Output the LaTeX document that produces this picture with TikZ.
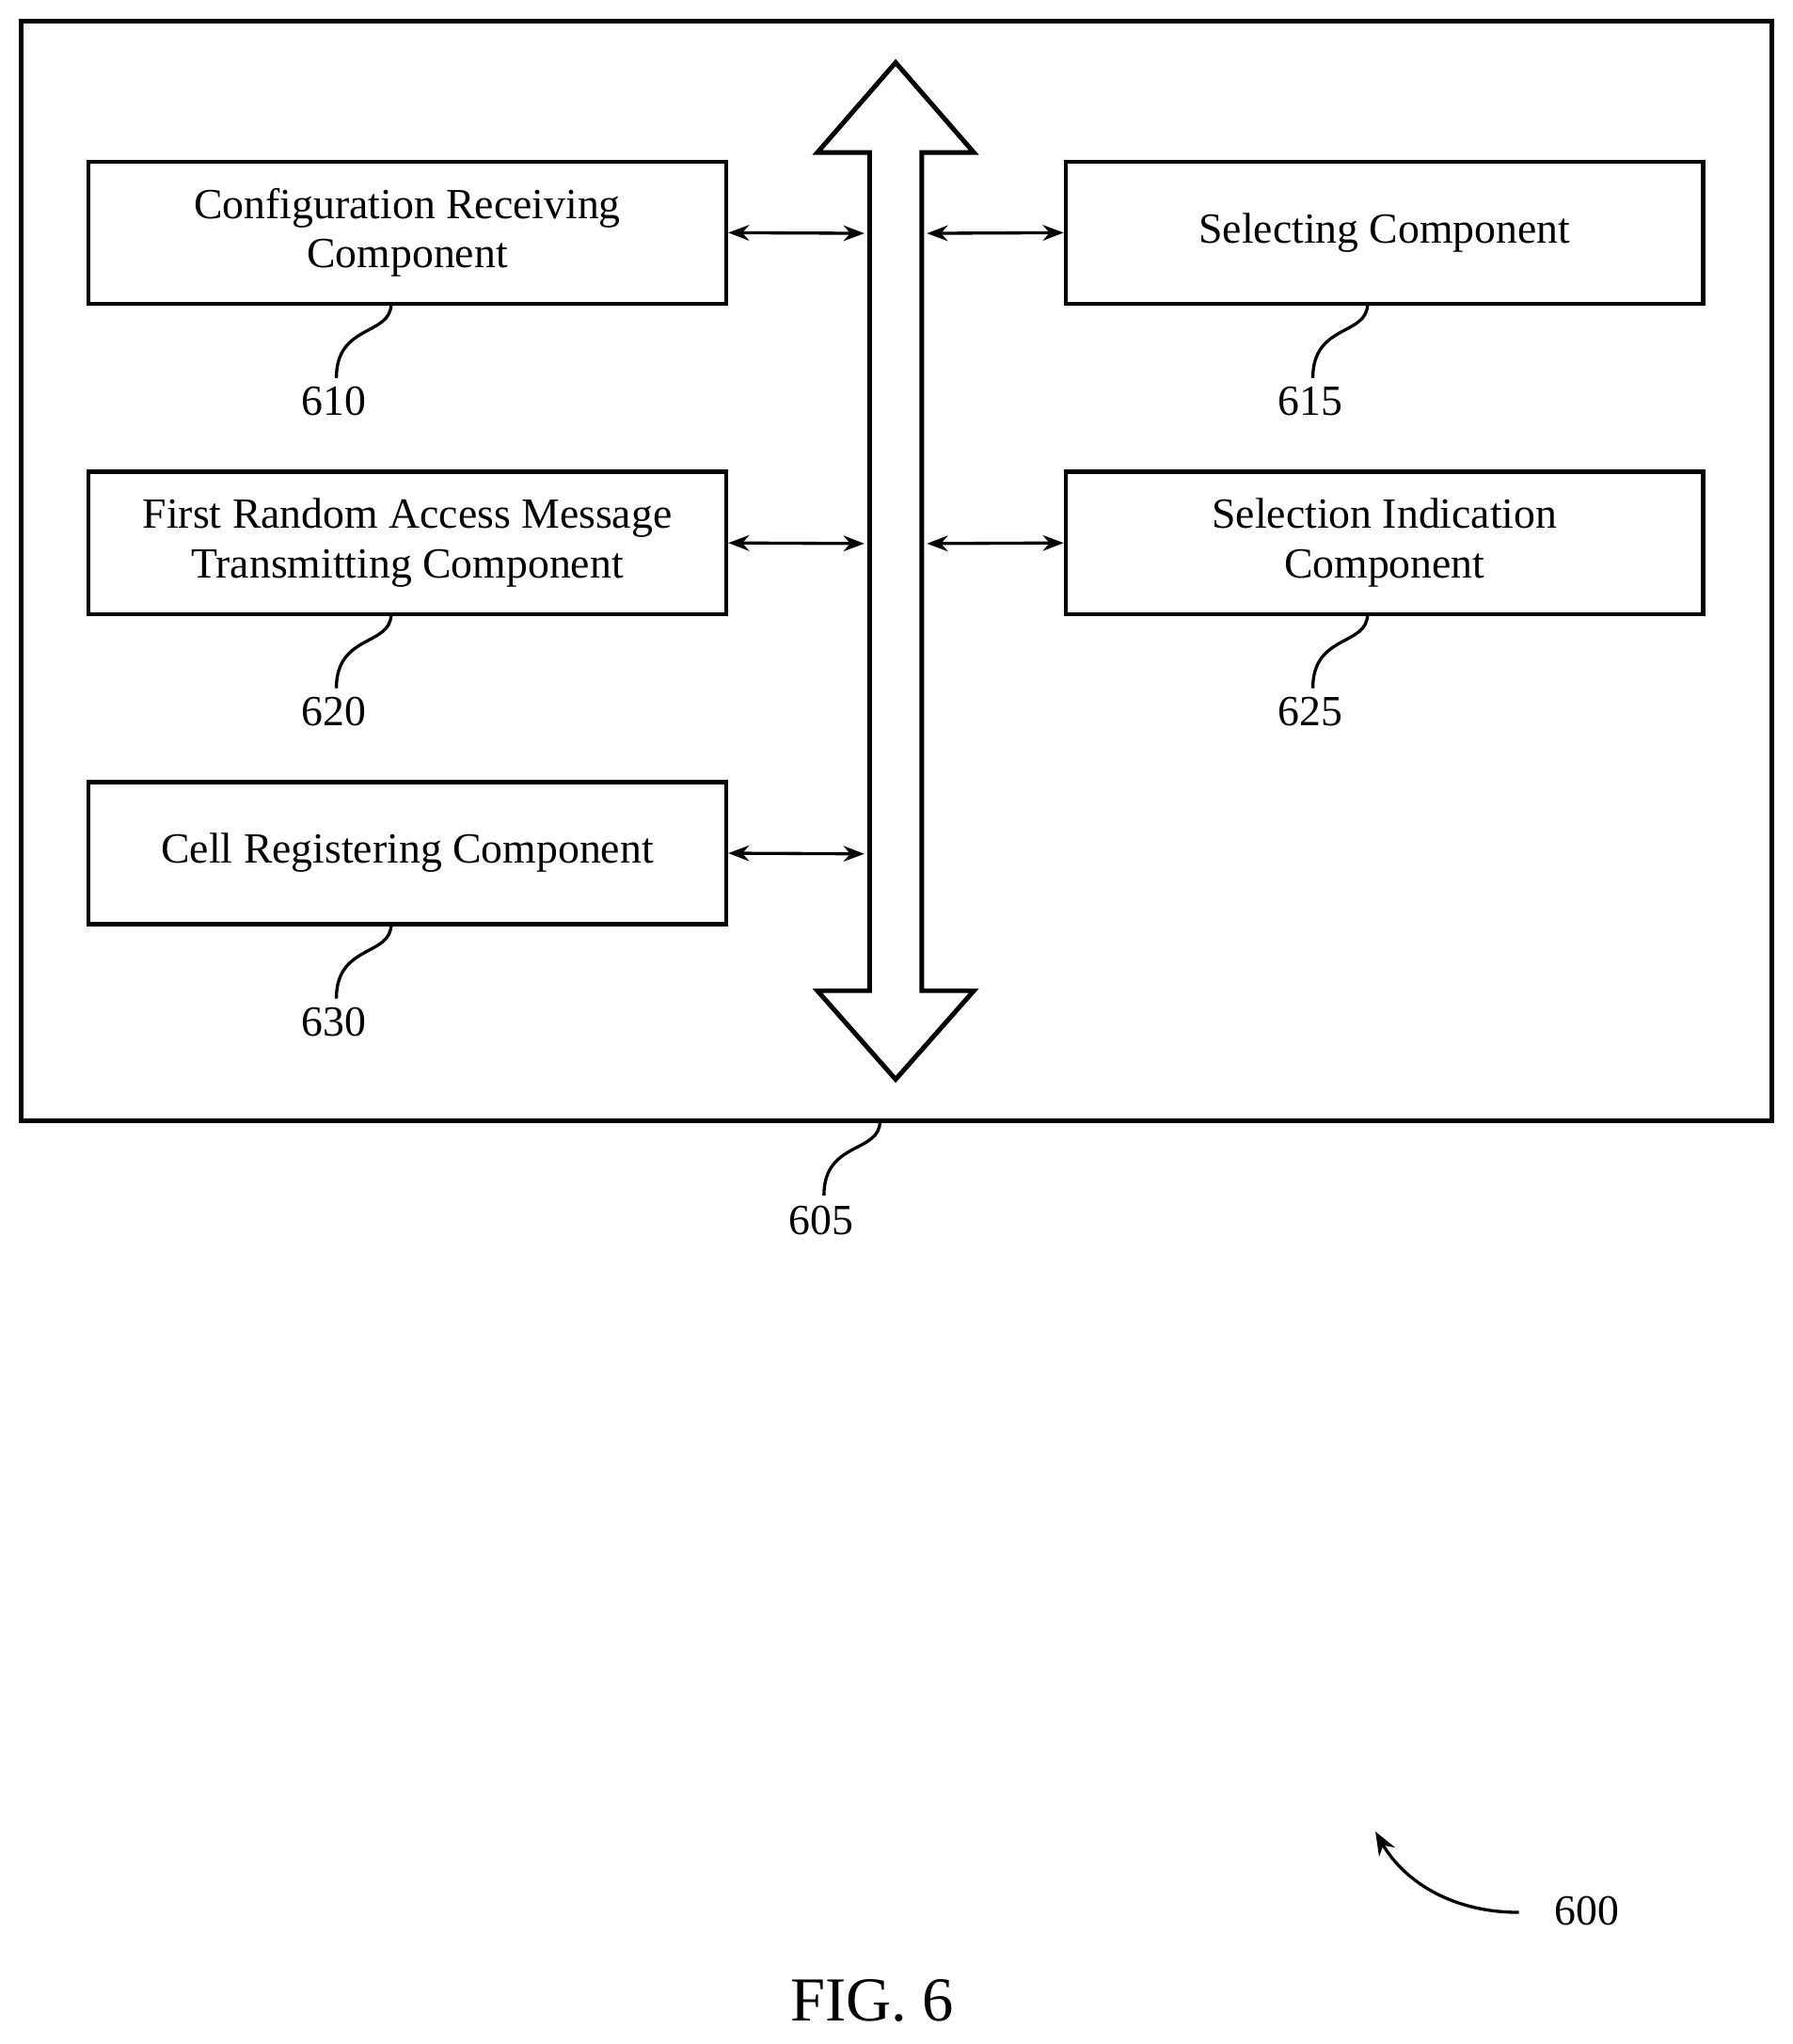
\documentclass[tikz,border=0pt]{standalone}
\usepackage{fontspec}
\setmainfont{Liberation Serif}
\usetikzlibrary{arrows.meta}
\begin{document}
\begin{tikzpicture}[x=0.5pt,y=-0.5pt,
  box/.style={draw,line width=1.6pt,minimum width=244.5pt,minimum height=54.5pt,align=center,font=\fontsize{16.5}{19}\selectfont,inner sep=0pt},
  lbl/.style={font=\fontsize{16.5}{19}\selectfont},
  con/.style={line width=1.2pt,{Stealth[length=8pt,width=6pt]}-{Stealth[length=8pt,width=6pt]}},
  lead/.style={line width=1.2pt}]
\useasboundingbox (0,0) rectangle (1375,1568);
\draw[line width=1.8pt] (16,16) rectangle (1359,860);
\node[box] (b610) at (312.5,178.5) {Configuration Receiving\\Component};
\node[box] (b620) at (312.5,416.5) {First Random Access Message\\Transmitting Component};
\node[box] (b630) at (312.5,654.5) {Cell Registering Component};
\node[box] (b615) at (1062,178.5) {Selecting Component};
\node[box] (b625) at (1062,416.5) {Selection Indication\\Component};
\draw[line width=1.8pt,line join=miter] (687,48) -- (747,117) -- (707,117) -- (707,760) -- (747,760) -- (687,828) -- (627,760) -- (667,760) -- (667,117) -- (627,117) -- cycle;
\coordinate (L1) at (663,179); \coordinate (L2) at (663,417); \coordinate (L3) at (663,655);
\coordinate (R1) at (711,179); \coordinate (R2) at (711,417);
\draw[con] (b610.east) -- (L1);
\draw[con] (b620.east) -- (L2);
\draw[con] (b630.east) -- (L3);
\draw[con] (R1) -- (b615.west);
\draw[con] (R2) -- (b625.west);
\foreach \n/\x/\y in {610/300/233,620/300/471,630/300/709,615/1049/233,625/1049/471}{
  \node[lbl] (n\n) at (\x-44,\y+75) {\n};
  \draw[lead] (\x,\y) .. controls (\x,\y+25) and (\x-42,\y+15) .. (\x-42,\y+57);
}
\node[lbl] (n605) at (630,936) {605};
\draw[lead] (675,860) .. controls (675,885) and (632,875) .. (632,917);
\node[lbl] (n600) at (1217,1466) {600};
\coordinate (a600) at (1165,1467);
\draw[lead,-{Stealth[length=9pt,width=7pt]}] (a600) .. controls (1110,1467) and (1075,1440) .. (1055,1405);
\node[font=\fontsize{24}{28}\selectfont] (fig) at (669,1535) {FIG. 6};
\end{tikzpicture}
\end{document}
